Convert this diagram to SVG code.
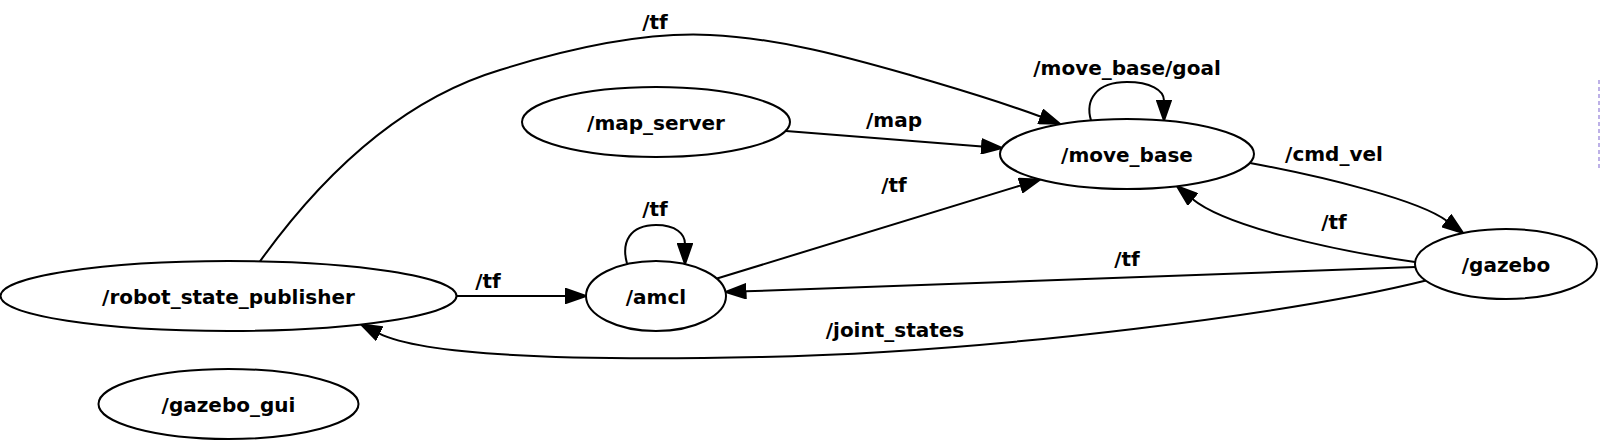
<svg xmlns="http://www.w3.org/2000/svg" width="1600" height="440" viewBox="0 0 1600 440">
<style>
.node ellipse{fill:#ffffff;stroke:#000000;stroke-width:2}
text{font-family:"DejaVu Sans","Liberation Sans",sans-serif;font-weight:bold;font-size:20px;fill:#000000;text-anchor:middle}
.edge path{fill:none;stroke:#000000;stroke-width:2;marker-end:url(#arrow)}
</style>
<defs>
<marker id="arrow" viewBox="0 0 22 16" markerUnits="userSpaceOnUse" markerWidth="22" markerHeight="16" refX="1" refY="8" orient="auto">
<path d="M1,1 L21,8 L1,15 Z" fill="#000000" stroke="#000000" stroke-width="2" stroke-linejoin="miter"/>
</marker>
</defs>
<rect x="0" y="0" width="1600" height="440" fill="#ffffff"/>
<g id="connectors">
<g class="edge" id="e_rsp_movebase"><path d="M260,261.3 C320,178 400,100 500,70 C580,45 650,32 710,35 C780,38 850,58 910,75 C950,87 990,98 1041,116.7"/><text x="655" y="29">/tf</text></g>
<g class="edge" id="e_map_movebase"><path d="M786,131 L982,146.4"/><text x="894" y="127">/map</text></g>
<g class="edge" id="e_amcl_movebase"><path d="M717,278.5 L1020.9,185.4"/><text x="894" y="192">/tf</text></g>
<g class="edge" id="e_amcl_loop"><path d="M627,263.5 C621,242 630,225 656,225 C676,225 685,234 685,244"/><text x="655" y="216">/tf</text></g>
<g class="edge" id="e_rsp_amcl"><path d="M456.5,296 L566,296"/><text x="488" y="288">/tf</text></g>
<g class="edge" id="e_gazebo_amcl"><path d="M1415.3,267 L745.5,291.3"/><text x="1127" y="266">/tf</text></g>
<g class="edge" id="e_gazebo_movebase"><path d="M1415,262 C1330,250 1225,226 1192.4,199"/><text x="1334" y="229">/tf</text></g>
<g class="edge" id="e_movebase_gazebo"><path d="M1250,163 C1325,177 1419,200 1447,221"/><text x="1334" y="161">/cmd_vel</text></g>
<g class="edge" id="e_gazebo_rsp"><path d="M1426,280.5 C1300,312 1000,352 760,357 C620,360 432,360 378.9,333.4"/><text x="895" y="337">/joint_states</text></g>
<g class="edge" id="e_movebase_loop"><path d="M1091,120.4 C1085,100 1096,82 1127,82 C1150,82 1164,90 1164,100.5"/><text x="1127" y="75">/move_base/goal</text></g>
</g>
<g class="node" id="robot_state_publisher"><ellipse cx="228.5" cy="296" rx="228" ry="35"/><text x="228.5" y="304">/robot_state_publisher</text></g>
<g class="node" id="amcl"><ellipse cx="656" cy="296" rx="70" ry="35"/><text x="656" y="304">/amcl</text></g>
<g class="node" id="map_server"><ellipse cx="656" cy="122" rx="134" ry="35"/><text x="656" y="130">/map_server</text></g>
<g class="node" id="gazebo_gui"><ellipse cx="228.5" cy="404" rx="130" ry="35"/><text x="228.5" y="412">/gazebo_gui</text></g>
<g class="node" id="move_base"><ellipse cx="1127" cy="154" rx="127" ry="35"/><text x="1127" y="162">/move_base</text></g>
<g class="node" id="gazebo"><ellipse cx="1506" cy="264" rx="91" ry="35"/><text x="1506" y="272">/gazebo</text></g>
<line x1="1599" y1="80" x2="1599" y2="170" stroke="#a898e0" stroke-width="1.5" stroke-dasharray="4,3"/>
</svg>
